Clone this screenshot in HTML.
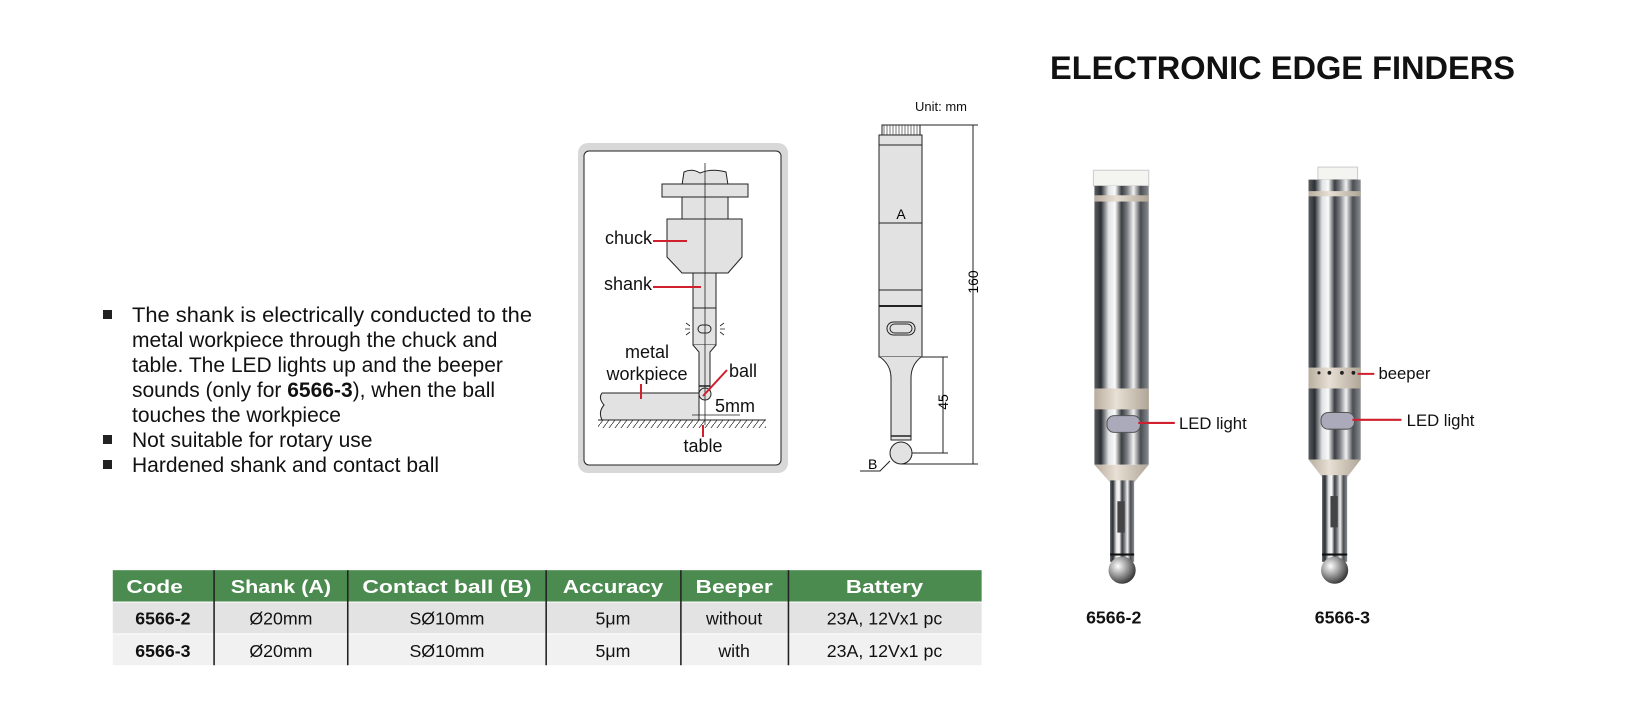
<!DOCTYPE html>
<html><head><meta charset="utf-8"><style>
html,body{margin:0;padding:0;background:#fff;}
svg{display:block;}
text{font-family:"Liberation Sans",Arial,sans-serif;}
</style></head><body>
<svg width="1629" height="711" viewBox="0 0 1629 711" xmlns="http://www.w3.org/2000/svg">
<defs>
<linearGradient id="metal" x1="0" x2="1" y1="0" y2="0">
<stop offset="0" stop-color="#5a5e62"/><stop offset="0.12" stop-color="#2c3034"/>
<stop offset="0.26" stop-color="#e0e2e4"/><stop offset="0.38" stop-color="#fafafa"/>
<stop offset="0.5" stop-color="#3a3e42"/><stop offset="0.6" stop-color="#7a7e82"/>
<stop offset="0.72" stop-color="#f2f2f2"/><stop offset="0.85" stop-color="#4a4e52"/>
<stop offset="1" stop-color="#8a8e92"/></linearGradient>
<linearGradient id="beige" x1="0" x2="1"><stop offset="0" stop-color="#b8ad9e"/><stop offset="0.4" stop-color="#e8e0d4"/><stop offset="1" stop-color="#b0a698"/></linearGradient>
<radialGradient id="ball" cx="0.35" cy="0.35" r="0.7"><stop offset="0" stop-color="#fff"/><stop offset="0.5" stop-color="#999"/><stop offset="1" stop-color="#333"/></radialGradient>
<pattern id="hatch" width="6" height="8" patternUnits="userSpaceOnUse"><line x1="6" y1="0" x2="0" y2="8" stroke="#333" stroke-width="0.8"/></pattern>
</defs>

<text x="1050" y="79" font-size="32" font-weight="bold" textLength="465" lengthAdjust="spacingAndGlyphs" fill="#111">ELECTRONIC EDGE FINDERS</text>

<g font-size="21" fill="#111">
<rect x="103" y="310" width="9" height="9" fill="#222"/>
<text x="132" y="322" textLength="400" lengthAdjust="spacingAndGlyphs">The shank is electrically conducted to the</text>
<text x="132" y="347">metal workpiece through the chuck and</text>
<text x="132" y="372">table. The LED lights up and the beeper</text>
<text x="132" y="397">sounds (only for <tspan font-weight="bold">6566-3</tspan>), when the ball</text>
<text x="132" y="422">touches the workpiece</text>
<rect x="103" y="435" width="9" height="9" fill="#222"/>
<text x="132" y="447">Not suitable for rotary use</text>
<rect x="103" y="460" width="9" height="9" fill="#222"/>
<text x="132" y="472">Hardened shank and contact ball</text>
</g>

<rect x="578" y="143" width="210" height="330" rx="10" fill="#d8d8d8"/>
<rect x="584" y="151" width="197" height="314" rx="5" fill="#fff" stroke="#222" stroke-width="1"/>
<g stroke="#222" stroke-width="1" fill="#e2e2e2">
<path d="M682 185 L684 172 Q692 168 700 173 Q712 168 726 172 L728 185 Z"/>
<rect x="662" y="184" width="86" height="13"/>
<rect x="682" y="197" width="46" height="22"/>
<path d="M667 219 H742 V257 L728 273 H682 L667 257 Z"/>
<rect x="693" y="273" width="23" height="35"/>
<rect x="693" y="308" width="23" height="37"/>
<rect x="698" y="325" width="13" height="8" rx="4"/>
<path d="M693 345 L699 352 V392 H710 V352 L716 345"/>
<circle cx="705" cy="394" r="6"/>
<path d="M602 393 H699 V420 H602 Q598 412 604 405 Q598 398 602 393 Z"/>
</g>
<line x1="699" y1="386" x2="710" y2="386" stroke="#222" stroke-width="1.5"/>
<line x1="705" y1="163" x2="705" y2="425" stroke="#222" stroke-width="0.8"/>
<g stroke="#222" stroke-width="0.8"><path d="M686 323 l4 3 M685 329 h5 M686 335 l4 -3 M724 323 l-4 3 M725 329 h-5 M724 335 l-4 -3"/></g>
<rect x="598" y="420" width="168" height="8" fill="url(#hatch)"/>
<line x1="598" y1="420" x2="766" y2="420" stroke="#222" stroke-width="1"/>
<line x1="692" y1="415" x2="740" y2="415" stroke="#222" stroke-width="0.8"/>
<line x1="699" y1="410" x2="699" y2="420" stroke="#222" stroke-width="0.8"/>
<g stroke="#d0202e" stroke-width="2">
<line x1="653" y1="241" x2="687" y2="241"/>
<line x1="653" y1="287" x2="701" y2="287"/>
<line x1="641" y1="384" x2="641" y2="399"/>
<line x1="727" y1="370" x2="703" y2="396"/>
<line x1="703" y1="425" x2="703" y2="437"/>
</g>
<g font-size="18" fill="#111">
<text x="652" y="244" text-anchor="end">chuck</text>
<text x="652" y="290" text-anchor="end">shank</text>
<text x="647" y="358" text-anchor="middle">metal</text>
<text x="647" y="380" text-anchor="middle">workpiece</text>
<text x="729" y="377">ball</text>
<text x="715" y="412">5mm</text>
<text x="703" y="452" text-anchor="middle">table</text>
</g>

<text x="915" y="111" font-size="13" fill="#111">Unit: mm</text>
<g stroke="#222" stroke-width="1" fill="#e2e2e2">
<rect x="882" y="125" width="38" height="10" fill="#fff"/>
<rect x="879" y="135" width="43" height="222"/>
<path d="M880 357 Q891 365 891 378 V440 H911 V378 Q911 365 921 357"/>
<circle cx="901" cy="453" r="11"/>
<rect x="887" y="322" width="28" height="13" rx="6.5"/>
<rect x="890" y="324" width="22" height="9" rx="4.5"/>
</g>
<g stroke="#222" stroke-width="0.6"><path d="M884 125 v10 M887 125 v10 M890 125 v10 M893 125 v10 M896 125 v10 M899 125 v10 M902 125 v10 M905 125 v10 M908 125 v10 M911 125 v10 M914 125 v10 M917 125 v10"/></g>
<g stroke="#222" stroke-width="1" fill="none">
<line x1="879" y1="145" x2="922" y2="145"/>
<line x1="879" y1="290" x2="922" y2="290"/>
<line x1="879" y1="306" x2="922" y2="306" stroke-width="2"/>
<line x1="891" y1="436" x2="911" y2="436" stroke-width="1.5"/>
<line x1="879" y1="223" x2="922" y2="223"/>
<line x1="920" y1="125" x2="978" y2="125"/>
<line x1="973" y1="125" x2="973" y2="464"/>
<line x1="901" y1="464" x2="978" y2="464"/>
<line x1="922" y1="357" x2="948" y2="357"/>
<line x1="943" y1="357" x2="943" y2="453"/>
<line x1="912" y1="453" x2="948" y2="453"/>
<path d="M860 471 H880 L890 461"/>
</g>
<text x="901" y="219" font-size="14" text-anchor="middle">A</text>
<text x="868" y="469" font-size="14">B</text>
<text transform="translate(978,282) rotate(-90)" font-size="14" text-anchor="middle">160</text>
<text transform="translate(948,402) rotate(-90)" font-size="14" text-anchor="middle">45</text>

<g transform="scale(1.0443)">
 <rect x="1047" y="163" width="53" height="15" fill="#f4f4f0" stroke="#ccc"/>
 <rect x="1048" y="178" width="52" height="267" fill="url(#metal)"/>
 <rect x="1048" y="187" width="52" height="6" fill="url(#beige)"/>
 <rect x="1048" y="372" width="52" height="20" fill="url(#beige)"/>
 <rect x="1060" y="398" width="32" height="16" rx="7" fill="#aab" stroke="#555"/>
 <path d="M1048 445 H1100 L1086 462 H1063 Z" fill="url(#beige)"/>
 <rect x="1063" y="460" width="23" height="78" fill="url(#metal)"/>
 <rect x="1063" y="530" width="23" height="2" fill="#111"/>
 <rect x="1070" y="480" width="7" height="30" fill="#444"/>
 <circle cx="1074.5" cy="546" r="13" fill="url(#ball)"/>
 <rect x="1262" y="160" width="38" height="12" fill="#f4f4f0" stroke="#ccc"/>
 <rect x="1253" y="172" width="50" height="268" fill="url(#metal)"/>
 <rect x="1253" y="183" width="50" height="5" fill="url(#beige)"/>
 <rect x="1253" y="352" width="50" height="20" fill="url(#beige)"/>
 <g fill="#222"><circle cx="1263" cy="357" r="1.5"/><circle cx="1273" cy="357" r="1.8"/><circle cx="1285" cy="357" r="1.8"/><circle cx="1296" cy="357" r="1.8"/></g>
 <rect x="1265" y="395" width="32" height="16" rx="7" fill="#aab" stroke="#555"/>
 <path d="M1253 440 H1303 L1290 457 H1266 Z" fill="url(#beige)"/>
 <rect x="1266" y="455" width="24" height="83" fill="url(#metal)"/>
 <rect x="1266" y="530" width="24" height="2" fill="#111"/>
 <rect x="1274" y="475" width="7" height="30" fill="#444"/>
 <circle cx="1278" cy="546" r="13" fill="url(#ball)"/>
 <g stroke="#d0202e" stroke-width="2">
 <line x1="1090" y1="405" x2="1125" y2="405"/>
 <line x1="1300" y1="358" x2="1316" y2="358"/>
 <line x1="1295" y1="402" x2="1342" y2="402"/>
 </g>
 <g font-size="16" fill="#111">
 <text x="1129" y="411">LED light</text>
 <text x="1320" y="363">beeper</text>
 <text x="1347" y="408">LED light</text>
 </g>
 <g font-size="17" font-weight="bold" fill="#111">
 <text x="1040" y="597">6566-2</text>
 <text x="1259" y="597">6566-3</text>
 </g>

 <rect x="108" y="546" width="832" height="30" fill="#4b8b4f"/>
 <rect x="108" y="577" width="832" height="30" fill="#e3e3e3"/>
 <rect x="108" y="607" width="832" height="30" fill="#f1f1f1"/>
 <line x1="108" y1="607" x2="940" y2="607" stroke="#fff" stroke-width="1"/>
 <g stroke="#222" stroke-width="1.5">
 <line x1="205" y1="546" x2="205" y2="637"/><line x1="333" y1="546" x2="333" y2="637"/>
 <line x1="523" y1="546" x2="523" y2="637"/><line x1="652" y1="546" x2="652" y2="637"/>
 <line x1="755" y1="546" x2="755" y2="637"/>
 </g>
 <g font-size="18" font-weight="bold" fill="#fff" text-anchor="middle">
 <text x="148" y="568" textLength="54" lengthAdjust="spacingAndGlyphs">Code</text>
 <text x="269" y="568" textLength="96" lengthAdjust="spacingAndGlyphs">Shank (A)</text>
 <text x="428" y="568" textLength="162" lengthAdjust="spacingAndGlyphs">Contact ball (B)</text>
 <text x="587" y="568" textLength="96" lengthAdjust="spacingAndGlyphs">Accuracy</text>
 <text x="703" y="568" textLength="74" lengthAdjust="spacingAndGlyphs">Beeper</text>
 <text x="847" y="568" textLength="74" lengthAdjust="spacingAndGlyphs">Battery</text>
 </g>
 <g font-size="17" fill="#111" text-anchor="middle">
 <text x="156" y="598" font-weight="bold">6566-2</text>
 <text x="269" y="598">Ø20mm</text><text x="428" y="598">SØ10mm</text>
 <text x="587" y="598">5μm</text><text x="703" y="598">without</text>
 <text x="847" y="598">23A, 12Vx1 pc</text>
 <text x="156" y="629" font-weight="bold">6566-3</text>
 <text x="269" y="629">Ø20mm</text><text x="428" y="629">SØ10mm</text>
 <text x="587" y="629">5μm</text><text x="703" y="629">with</text>
 <text x="847" y="629">23A, 12Vx1 pc</text>
 </g>
</g>
</svg>
</body></html>
